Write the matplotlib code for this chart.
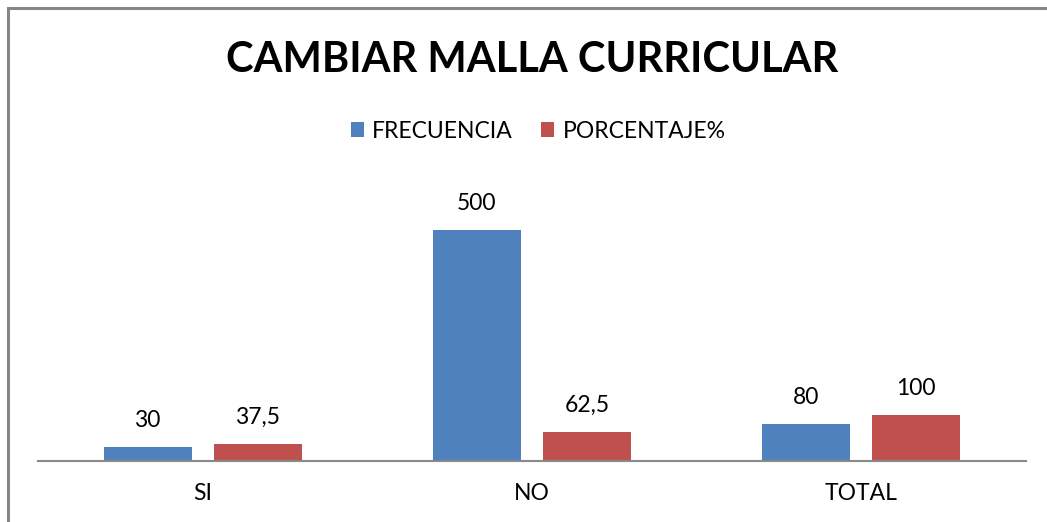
import numpy as np
import matplotlib
matplotlib.use("Agg")
import matplotlib.pyplot as plt
from matplotlib.patches import Rectangle

categorias = ["SI", "NO", "TOTAL"]
frecuencia = [30, 500, 80]
porcentaje = [37.5, 62.5, 100]
etiquetas_frec = ["30", "500", "80"]
etiquetas_porc = ["37,5", "62,5", "100"]
series = ["FRECUENCIA", "PORCENTAJE%"]

AZUL = "#4F81BD"
ROJO = "#C0504D"

plt.rcParams['font.family'] = ['Lato', 'DejaVu Sans']

fig = plt.figure(figsize=(10.47, 5.22), dpi=100)

# marco del grafico (solo se ve arriba y a la izquierda)
fig.patches.append(Rectangle((8 / 1047, -0.1), 1.2, (522 - 8) / 522 + 0.1,
                             transform=fig.transFigure, fill=False,
                             edgecolor="#868686", linewidth=2.2, zorder=0))

ax = fig.add_axes([38 / 1047, 61 / 522, 988 / 1047, 277 / 522])

x = np.arange(len(categorias))
ancho = 0.267
b1 = ax.bar(x - 0.167, frecuencia, ancho, color=AZUL, label=series[0])
b2 = ax.bar(x + 0.167, porcentaje, ancho, color=ROJO, label=series[1])

for barras, textos in ((b1, etiquetas_frec), (b2, etiquetas_porc)):
    for b, t in zip(barras, textos):
        ax.annotate(t, (b.get_x() + b.get_width() / 2, b.get_height()),
                    xytext=(0, 19), textcoords="offset points",
                    ha="center", va="center", fontsize=16.5)

ax.set_xlim(-0.5, 2.5)
ax.set_ylim(0, 600)
ax.set_xticks(x)
ax.set_xticklabels(categorias, fontsize=16.5)
ax.tick_params(axis="x", length=0, pad=16)
ax.set_yticks([])
for lado in ("top", "right", "left"):
    ax.spines[lado].set_visible(False)
ax.spines["bottom"].set_color("#898989")
ax.spines["bottom"].set_linewidth(1.5)

fig.text(532 / 1047, 1 - 60 / 522, "CAMBIAR MALLA CURRICULAR",
         ha="center", va="center", fontsize=30, fontweight="bold")

fig.legend(loc="center", bbox_to_anchor=(538 / 1047, 1 - 131 / 522),
           ncol=2, frameon=False, fontsize=16.5, handlelength=0.6,
           handleheight=0.6, handletextpad=0.35, columnspacing=1.2)

fig.savefig("out.png", dpi=100)
